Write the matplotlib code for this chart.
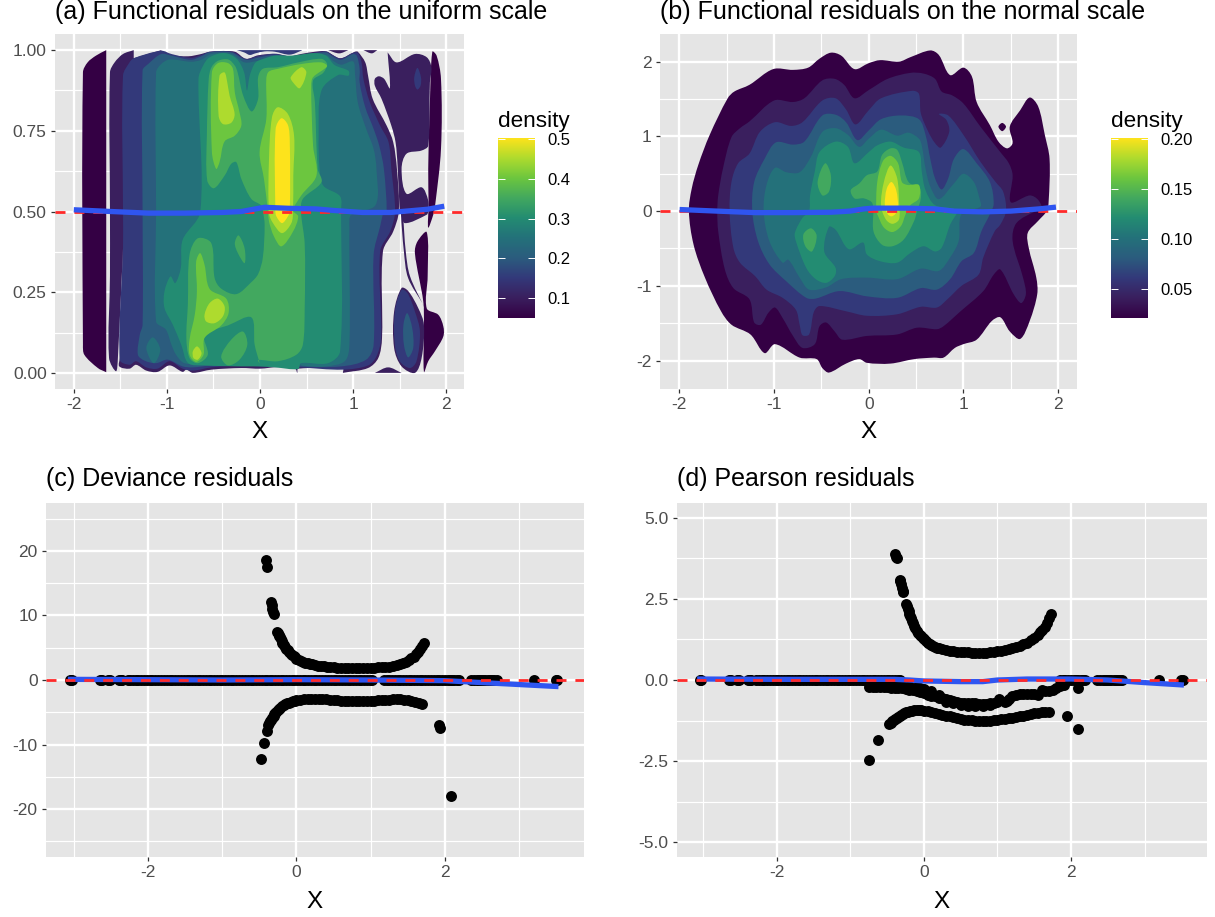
import numpy as np
import matplotlib
matplotlib.use("Agg")
import matplotlib.pyplot as plt
from matplotlib.colors import LinearSegmentedColormap
from matplotlib.patches import PathPatch
from matplotlib.path import Path

plt.rcParams["font.family"] = ["Liberation Sans", "DejaVu Sans"]
plt.rcParams["axes.unicode_minus"] = False

W, H = 1215, 917

band_colors = ["#340044", "#3a1f5e", "#33397a", "#2b5c7e", "#24717a",
               "#238c72", "#42a85f", "#6cc63f", "#aedb2e", "#fde31c"]
levels_a = [0.05, 0.10, 0.15, 0.20, 0.25, 0.30, 0.35, 0.40, 0.45, 0.50]
levels_b = [0.02, 0.04, 0.06, 0.08, 0.10, 0.12, 0.14, 0.16, 0.18, 0.20]

# contour outlines of the density in panel (a)
a_05_left = [(-1.90, .087), (-1.90, .931), (-1.85, .962), (-1.76, .983), (-1.65, 1.0), (-1.65, 1.0),
             (-1.65, .002), (-1.65, .002), (-1.74, .015), (-1.885, .056)]
a_05_right = [(1.85, .995), (1.896, .983), (1.943, .911), (1.943, .694), (1.88, .519), (1.86, .49),
              (1.806, .45), (1.81, .52), (1.806, .632), (1.824, .838)]
a_05_lower = [(1.79, .436), (1.80, .30), (1.79, .20), (1.914, .18), (1.968, .144), (1.968, .113),
              (1.878, .067), (1.806, .036), (1.76, .003), (1.76, .149), (1.753, .221), (1.663, .371), (1.69, .407)]
a_10_main = [(-1.61, .5), (-1.61, .931), (-1.56, .962), (-1.47, .988), (-1.355, 1.0), (-1.355, 1.0),
             (-1.355, .975), (-1.355, .975), (-1.06, 1.0), (-1.06, 1.0), (-1.04, .991), (-.99, .985),
             (-.77, .981), (-.63, .988), (-.54, .995), (-.45, .996), (-.27, .995), (-.15, .973),
             (-.02, .984), (.16, .988), (.32, .981), (.44, .988), (.59, .995), (.71, .996), (.86, .975),
             (1.02, .995), (1.05, .995), (1.13, .962), (1.16, .921), (1.21, .849), (1.36, .766),
             (1.43, .715), (1.47, .632), (1.49, .5), (1.43, .438), (1.32, .376), (1.31, .108),
             (1.27, .046), (1.16, .015), (.89, .0), (.89, .0), (.89, .013), (.41, .013), (.40, .0),
             (.38, .012), (.2, .018), (0, .013), (-.2, .015), (-.52, .01), (-.72, 0), (-.79, .01),
             (-.83, .003), (-.97, .023), (-1.10, .003), (-1.22, .007), (-1.33, .025), (-1.40, .013),
             (-1.51, .02), (-1.505, .046), (-1.47, .386), (-1.47, .386), (-1.525, .046), (-1.545, .005),
             (-1.62, .046), (-1.61, .3)]
a_10_right = [(1.37, .993), (1.37, .993), (1.466, .962), (1.663, .988), (1.79, .978), (1.84, .947), (1.824, .90),
              (1.806, .704), (1.735, .689), (1.573, .679), (1.52, .632), (1.573, .555), (1.735, .575),
              (1.806, .534), (1.806, .5), (1.79, .49), (1.556, .464), (1.51, .495), (1.50, .5), (1.477, .642),
              (1.455, .715), (1.41, .766), (1.305, .849), (1.233, .89), (1.233, .911), (1.276, .919),
              (1.333, .911), (1.394, .882)]
a_10_diag = [(1.513, .5), (1.545, .376), (1.59, .294), (1.753, .211), (1.77, .20), (1.61, .30), (1.565, .376), (1.53, .5)]
a_10_blob = [(1.52, .263), (1.59, .254), (1.70, .20), (1.76, .149), (1.735, .046), (1.663, .0),
             (1.52, .02), (1.44, .077), (1.44, .19)]
a_10_bump = [(1.233, 0), (1.233, 0), (1.376, .017), (1.52, 0), (1.52, 0)]
a_10_top1 = [(.73, 1.0), (.73, 1.0), (.85, .99), (.95, 1.0), (.95, 1.0)]
a_10_top2 = [(1.11, 1.0), (1.11, 1.0), (1.2, .99), (1.26, 1.0), (1.26, 1.0)]
a_15_main = [(-1.47, .5), (-1.47, .921), (-1.40, .962), (-1.355, .975), (-1.06, .998), (-.95, .988),
             (-.74, .976), (-.63, .985), (-.54, .995), (-.30, .995), (-.15, .973), (-.02, .982), (.16, .989),
             (.34, .98), (.52, .989), (.71, .996), (.78, .985), (.87, .974), (1.0, .992), (1.05, .992),
             (1.09, .962), (1.11, .911), (1.18, .838), (1.29, .766), (1.38, .715), (1.41, .632), (1.45, .5),
             (1.40, .44), (1.29, .376), (1.30, .108), (1.25, .051), (1.16, .023), (.89, .01), (.41, .017),
             (0, .02), (-.2, .023), (-.52, .017), (-.72, .007), (-.83, .013), (-.97, .036), (-1.10, .013),
             (-1.22, .017), (-1.33, .036), (-1.40, .025), (-1.505, .041), (-1.47, .386)]
a_15_top = [(-.25, 1.0), (-.25, 1.0), (-.17, .993), (-.11, .985), (-.05, .99), (.05, .996), (.16, .995),
            (.32, .986), (.45, .999), (.45, 1.0), (.45, 1.0)]
a_15_blob = [(1.52, .257), (1.584, .247), (1.663, .19), (1.717, .128), (1.68, .036), (1.61, .015),
             (1.50, .036), (1.448, .087), (1.448, .19)]
a_15_spot = [(1.656, .916), (1.69, .945), (1.728, .916), (1.724, .89), (1.69, .878), (1.664, .89)]
a_20_main = [(-1.26, .5), (-1.26, .937), (-1.20, .957), (-1.06, .988), (-.95, .983), (-.74, .970), (-.63, .981),
             (-.54, .993), (-.31, .993), (-.15, .97), (-.02, .977), (.16, .985), (.34, .975), (.52, .985),
             (.71, .993), (.78, .98), (.87, .97), (1.0, .988), (1.04, .982), (1.07, .942), (1.07, .90),
             (1.13, .823), (1.22, .756), (1.28, .704), (1.33, .632), (1.36, .5), (1.33, .5), (1.29, .454),
             (1.22, .366), (1.22, .087), (1.14, .041), (.87, .02), (.41, .02), (0, .028), (-.2, .027),
             (-.52, .023), (-.72, .017), (-.83, .02), (-.99, .041), (-1.115, .03), (-1.24, .038),
             (-1.31, .056), (-1.29, .118), (-1.26, .149)]
a_20_blob = [(1.58, .185), (1.634, .139), (1.645, .077), (1.59, .048), (1.545, .087), (1.54, .149)]
a_25_main = [(-1.115, .5), (-1.115, .931), (-1.06, .957), (-.97, .971), (-.74, .964), (-.63, .97), (-.52, .988),
             (-.31, .988), (-.165, .962), (-.02, .967), (.16, .974), (.34, .964), (.52, .974), (.71, .985),
             (.78, .968), (.87, .955), (1.0, .965), (1.02, .926), (1.05, .838), (1.14, .756), (1.22, .694),
             (1.25, .632), (1.24, .52), (.98, .49), (.96, .45), (.96, .087), (.91, .036), (.70, .02),
             (.46, .022), (.40, .03), (0, .033), (-.2, .034), (-.52, .027), (-.81, .03), (-.90, .056),
             (-.95, .087), (-1.01, .134), (-1.115, .159)]
a_25_lobe = [(-1.22, .077), (-1.15, .11), (-1.07, .072), (-1.14, .03)]
a_30_main = [(-.64, .5), (-.66, .911), (-.61, .952), (-.54, .978), (-.38, .991), (-.25, .973), (-.17, .931),
             (-.14, .875), (-.11, .921), (-.06, .957), (-.02, .967), (.16, .983), (.34, .983), (.59, .991),
             (.71, .983), (.80, .954), (.95, .936), (.95, .921), (.84, .923), (.66, .875), (.63, .735),
             (.64, .632), (.68, .58), (.86, .547), (.87, .5), (.86, .067), (.73, .03), (.44, .03),
             (.41, .012), (.16, .017), (-.02, .02), (-.2, .02), (-.595, .023), (-.77, .03), (-.845, .087),
             (-.935, .149), (-1.025, .201), (-1.025, .252), (-.96, .299), (-.91, .278), (-.85, .325), (-.83, .412)]
a_35_main = [(-.566, .596), (-.57, .735), (-.55, .911), (-.52, .947), (-.45, .967), (-.34, .971), (-.27, .952),
             (-.24, .931), (-.18, .859), (-.09, .81), (-.02, .849), (-.02, .916), (.03, .942), (.19, .947),
             (.41, .962), (.66, .973), (.72, .957), (.68, .93), (.57, .906), (.59, .838), (.62, .632), (.66, .591),
             (.46, .539), (.44, .5), (.48, .4), (.48, .2), (.46, .087), (.39, .056), (.19, .036), (-.02, .04),
             (-.004, .03), (-.057, .087), (-.093, .172), (-.344, .147), (-.595, .118), (-.56, .056), (-.667, .03),
             (-.756, .046), (-.79, .108), (-.774, .211), (-.756, .366), (-.667, .417), (-.523, .402), (-.487, .294),
             (-.416, .261), (-.254, .244), (-.093, .281), (-.02, .306), (.03, .356), (.05, .459), (.03, .503),
             (.014, .519), (-.093, .539), (-.2, .601), (-.254, .653), (-.308, .648), (-.38, .611), (-.495, .572)]
a_35_spot = [(-.27, .402), (-.23, .426), (-.165, .386), (-.165, .34), (-.237, .371)]
a_35_lens = [(-.416, .051), (-.308, .103), (-.183, .128), (-.136, .087), (-.219, .041), (-.344, .023)]
a_40_upper = [(-.516, .684), (-.516, .931), (-.45, .96), (-.344, .96), (-.29, .942), (-.27, .869), (-.22, .808),
              (-.2, .766), (-.27, .735), (-.38, .717), (-.434, .653), (-.47, .632)]
a_40_center = [(.068, .911), (.093, .933), (.19, .942), (.444, .957), (.66, .962), (.72, .95), (.57, .916),
               (.55, .89), (.57, .704), (.606, .611), (.444, .55), (.355, .503), (.41, .485), (.355, .438),
               (.23, .392), (.15, .423), (.097, .469), (.086, .5), (.043, .601), (-.004, .684), (.068, .787)]
a_40_lower = [(-.642, .371), (-.685, .345), (-.677, .252), (-.70, .18), (-.756, .103), (-.756, .056), (-.685, .034),
              (-.606, .056), (-.595, .108), (-.416, .147), (-.337, .185), (-.362, .23), (-.54, .26), (-.595, .335)]
a_45_upper = [(-.434, .921), (-.38, .931), (-.351, .90), (-.326, .859), (-.272, .802), (-.308, .775), (-.398, .771), (-.444, .797)]
a_45_spot = [(.33, .916), (.444, .947), (.498, .931), (.427, .882), (.355, .90)]
a_45_center = [(.097, .663), (.129, .792), (.19, .823), (.30, .802), (.366, .735), (.358, .611), (.355, .503),
               (.337, .464), (.237, .433), (.14, .464), (.097, .495)]
a_45_lower = [(-.595, .18), (-.541, .216), (-.452, .23), (-.38, .206), (-.398, .175), (-.487, .154), (-.577, .159)]
a_45_small = [(-.72, .067), (-.674, .082), (-.627, .061), (-.667, .041), (-.714, .046)]
a_50_center = [(.165, .503), (.168, .756), (.23, .789), (.30, .768), (.32, .715), (.32, .503), (.30, .485), (.237, .464), (.176, .485)]

# contour outlines of the density in panel (b)
b_02_main = [(-1.90, 0), (-1.87, .30), (-1.80, .62), (-1.68, 1.02), (-1.49, 1.51), (-1.42, 1.60), (-1.26, 1.69),
             (-1.01, 1.90), (-.80, 1.89), (-.64, 1.92), (-.52, 2.04), (-.40, 2.12), (-.29, 2.08), (-.15, 1.90),
             (0, 1.98), (.12, 2.02), (.32, 2.00), (.44, 2.06), (.65, 2.15), (.74, 2.09), (.86, 1.82), (1.0, 1.92),
             (1.09, 1.80), (1.14, 1.46), (1.28, 1.15), (1.37, .93), (1.46, .84), (1.52, .91), (1.49, 1.13),
             (1.60, 1.35), (1.70, 1.52), (1.79, 1.40), (1.86, 1.02), (1.91, .70), (1.90, .12), (1.88, 0),
             (1.79, -.13), (1.68, -.29), (1.69, -.49), (1.77, -.89), (1.78, -1.11), (1.70, -1.47), (1.60, -1.71),
             (1.49, -1.61), (1.39, -1.42), (1.30, -1.47), (1.14, -1.72), (1.0, -1.78), (.91, -1.83), (.79, -1.96),
             (.69, -1.96), (.48, -1.98), (.23, -2.04), (-.02, -2.03), (-.10, -1.98), (-.24, -2.04), (-.42, -2.16),
             (-.49, -2.10), (-.55, -1.98), (-.73, -1.96), (-.99, -1.78), (-1.10, -1.90), (-1.25, -1.65),
             (-1.45, -1.52), (-1.56, -1.34), (-1.73, -.89), (-1.85, -.45)]
b_02_spot = [(1.37, 1.13), (1.41, 1.18), (1.45, 1.13), (1.41, 1.07)]
b_04_main = [(-1.60, 0), (-1.59, .21), (-1.54, .57), (-1.45, .99), (-1.36, 1.11), (-1.26, 1.20), (-1.0, 1.48),
             (-.80, 1.46), (-.68, 1.51), (-.49, 1.75), (-.36, 1.77), (-.26, 1.69), (-.15, 1.51), (0, 1.62),
             (.20, 1.77), (.44, 1.85), (.58, 1.84), (.70, 1.77), (.77, 1.60), (.88, 1.55), (1.0, 1.44),
             (1.18, 1.13), (1.39, .79), (1.48, .64), (1.52, .48), (1.50, .12), (1.70, .21), (1.79, .15), (1.84, 0),
             (1.77, 0), (1.56, -.16), (1.52, -.40), (1.63, -.89), (1.66, -1.11), (1.61, -1.23), (1.53, -1.11),
             (1.39, -.78), (1.32, -.85), (1.21, -1.07), (.97, -1.34), (.79, -1.54), (.72, -1.58), (.51, -1.56),
             (.30, -1.65), (-.02, -1.67), (-.28, -1.72), (-.36, -1.61), (-.45, -1.49), (-.52, -1.54), (-.57, -1.78),
             (-.70, -1.83), (-.80, -1.67), (-.91, -1.43), (-.99, -1.29), (-1.06, -1.36), (-1.14, -1.52),
             (-1.21, -1.49), (-1.26, -1.18), (-1.43, -1.03), (-1.52, -.78), (-1.59, -.27)]
b_06_main = [(-1.47, 0), (-1.45, .39), (-1.38, .64), (-1.26, .77), (-1.15, 1.06), (-.99, 1.19), (-.82, 1.14),
             (-.70, 1.19), (-.49, 1.48), (-.35, 1.51), (-.24, 1.36), (-.14, 1.16), (0, 1.35), (.13, 1.51), (.46, 1.61),
             (.53, 1.57), (.55, 1.31), (.63, 1.06), (.70, .91), (.76, .85), (.85, 1.06), (.82, 1.22), (.74, 1.30),
             (.84, 1.28), (1.0, 1.02), (1.18, .66), (1.34, .39), (1.42, .26), (1.45, 0), (1.39, -.18), (1.33, -.27),
             (1.21, -.62), (1.16, -.85), (.98, -1.0), (.83, -1.18), (.72, -1.29), (.55, -1.28), (.30, -1.38),
             (-.02, -1.40), (-.24, -1.34), (-.52, -1.27), (-.58, -1.35), (-.63, -1.65), (-.70, -1.66), (-.73, -1.52),
             (-.77, -1.32), (-.91, -1.16), (-1.08, -1.05), (-1.20, -.87), (-1.36, -.69), (-1.43, -.49)]
b_08_main = [(-1.23, 0), (-1.21, .39), (-1.10, .70), (-.98, .92), (-.80, .89), (-.68, .93), (-.49, 1.28), (-.35, 1.29),
             (-.24, 1.19), (-.12, .95), (0, 1.08), (.13, 1.23), (.34, 1.28), (.53, 1.23), (.60, 1.02), (.65, .70),
             (.70, .44), (.77, .29), (.84, .44), (.90, .70), (1.0, .83), (1.14, .64), (1.28, .39), (1.32, .10),
             (1.28, -.04), (1.19, -.27), (1.11, -.56), (.98, -.67), (.86, -.91), (.72, -1.05), (.55, -1.03),
             (.30, -1.16), (-.02, -1.14), (-.31, -1.07), (-.56, -1.17), (-.66, -1.16), (-.87, -.94), (-1.05, -.71),
             (-1.17, -.40)]
b_10_main = [(-1.11, 0), (-1.08, .35), (-.99, .58), (-.87, .52), (-.73, .52), (-.61, .73), (-.49, 1.06), (-.35, 1.11),
             (-.22, 1.02), (-.10, .86), (0, .97), (.13, 1.09), (.30, 1.01), (.42, 1.05), (.53, .97), (.56, .88),
             (.60, .57), (.65, .33), (.74, .16), (.90, .37), (1.0, .50), (1.11, .39), (1.17, .17), (1.18, .06),
             (.98, -.04), (.95, -.40), (.86, -.62), (.74, -.80), (.55, -.77), (.30, -.91), (-.02, -.89), (-.29, -.91),
             (-.45, -1.02), (-.63, -1.05), (-.73, -.89), (-.85, -.65), (-.91, -.69), (-1.05, -.40)]
b_12_main = [(-.63, 0), (-.62, .21), (-.57, .53), (-.52, .79), (-.35, .93), (-.22, .86), (-.15, .64), (0, .79), (.09, .88),
             (.23, .93), (.37, .85), (.53, .79), (.56, .53), (.60, .28), (.70, .08), (.93, .01), (.86, -.18), (.77, -.49),
             (.70, -.54), (.58, -.47), (.44, -.56), (.30, -.69), (.12, -.67), (-.02, -.58), (-.06, -.42), (-.21, -.51),
             (-.35, -.25), (-.42, -.21), (-.47, -.54), (-.35, -.76), (-.36, -.87), (-.45, -.96), (-.56, -.91),
             (-.66, -.76), (-.77, -.40), (-.78, -.29), (-.70, -.09)]
b_14_upper = [(-.46, .64), (-.40, .48), (-.42, .26), (-.49, .21), (-.54, .39)]
b_14_lower = [(-.61, -.23), (-.55, -.33), (-.60, -.54), (-.67, -.47), (-.69, -.31)]
b_14_center = [(-.19, .28), (-.15, .17), (-.05, .17), (.04, .10), (.05, -.27), (.14, -.45), (.25, -.47), (.37, -.38),
               (.48, -.13), (.51, 0), (.55, .17), (.54, .30), (.42, .39), (.35, .66), (.30, .82), (.23, .84),
               (.14, .75), (.09, .53), (-.02, .48), (-.10, .37)]
b_16_center = [(.09, .39), (.15, .67), (.23, .74), (.31, .64), (.35, .39), (.41, .35), (.53, .35), (.53, .17), (.44, .08),
               (.39, -.04), (.34, -.20), (.25, -.28), (.16, -.22), (.10, -.07), (.08, 0)]
b_18_center = [(.13, .08), (.16, .39), (.23, .61), (.30, .44), (.32, .12), (.32, -.11), (.25, -.17), (.18, -.11)]
b_20_center = [(.17, .08), (.19, .30), (.24, .39), (.29, .28), (.31, .04), (.28, -.04), (.24, -.07), (.20, -.04)]

# smooth lines
a_smooth_x = [-1.97, -1.6, -1.2, -.8, -.4, -.2, -.05, .05, .3, .6, .8, 1.1, 1.4, 1.6, 1.8, 1.95]
a_smooth_y = [.505, .5, .495, .495, .497, .5, .508, .513, .51, .508, .503, .497, .497, .502, .507, .515]
b_smooth_x = [-1.97, -1.6, -1.2, -.8, -.4, -.2, -.05, .05, .4, .7, .9, 1.2, 1.5, 1.8, 1.95]
b_smooth_y = [.02, 0, -.02, -.02, -.015, 0, .03, .04, .04, .03, 0, -.01, 0, .03, .05]
c_smooth_x = [-3.05, -2, -1, 0, 1, 2, 2.5, 3, 3.5]
c_smooth_y = [.1, .05, 0, .05, 0, -.1, -.4, -.7, -1.0]
d_smooth_x = [-3.05, -2, -1, -.4, -.2, 0, .5, .8, 1.0, 1.4, 2, 2.5, 3, 3.5]
d_smooth_y = [.03, .02, .02, .02, 0, -.03, -.05, -.05, 0, .03, .03, 0, -.08, -.15]

# residuals sitting on zero, both panels (c) and (d)
zero_left_x = [-3.05, -3.03, -2.65, -2.62, -2.55, -2.52, -2.40, -2.37, -2.35, -2.28, -2.24, -2.21, -2.17, -2.14, -2.1,
               -2.06, -2.02, -1.98, -1.95, -1.91, -1.87, -1.83, -1.79, -1.75, -1.71, -1.68, -1.64, -1.6, -1.56, -1.52,
               -1.48, -1.45, -1.41, -1.37, -1.33, -1.3, -1.26, -1.22, -1.18, -1.15, -1.11, -1.07, -1.03, -1.0, -.96,
               -.92, -.88, -.85, -.81, -.77, -.73, -.7, -.66, -.62, -.58, -.55, -.51, -.47, -.43, -.4, -.36, -.33]
zero_mid_x = [-.29, -.25, -.21, -.18, -.14, -.1, -.06, -.03, .01, .05, .09, .12, .16, .2, .24, .27, .31, .35, .39, .42,
              .46, .5, .54, .57, .61, .65, .69, .72, .76, .8, .84, .87, .91, .95, .99, 1.02, 1.18, 1.22, 1.25, 1.29,
              1.33, 1.37, 1.4, 1.44, 1.48, 1.52, 1.55, 1.59, 1.63, 1.67, 1.7, 1.74, 1.78, 1.82]
zero_right_x = [1.85, 1.89, 1.92, 1.96, 2.0, 2.04, 2.07, 2.1, 2.13, 2.16, 2.19, 2.35, 2.4, 2.43, 2.46, 2.49, 2.52, 2.55,
                2.58, 2.61, 2.64, 2.67, 2.7, 3.2, 3.5, 3.52]

c_upper_x = [-.41, -.40, -.34, -.335, -.33, -.32, -.31, -.26, -.25, -.24, -.23, -.22, -.21, -.2, -.19, -.18, -.165, -.15,
             -.135, -.12, -.1, -.08, -.06, -.04, -.02, 0, .03, .06, .09, .12, .15, .18, .21, .25, .29, .33, .37, .41,
             .45, .5, .55, .6, .65, .7, .75, .8, .85, .9, .95, 1.0, 1.05, 1.1, 1.15, 1.2, 1.25, 1.3, 1.35, 1.4, 1.44,
             1.48, 1.52, 1.55, 1.58, 1.61, 1.64, 1.67, 1.7, 1.72]
c_upper_y = [18.6, 17.5, 12, 11.6, 11, 10.5, 10.2, 7.5, 7.3, 7, 6.8, 6.6, 6.3, 6, 5.8, 5.6, 5.35, 5.1,
             4.85, 4.6, 4.35, 4.1, 3.9, 3.7, 3.5, 3.3, 3.1, 2.95, 2.85, 2.7, 2.6, 2.5, 2.4, 2.3, 2.22, 2.15, 2.1, 2.05,
             2, 1.95, 1.92, 1.9, 1.87, 1.85, 1.85, 1.85, 1.85, 1.85, 1.87, 1.9, 1.92, 1.95, 1.97, 2, 2.07, 2.15, 2.3,
             2.5, 2.65, 2.85, 3.1, 3.35, 3.6, 3.95, 4.3, 4.75, 5.3, 5.7]
c_lower_x = [-.48, -.44, -.40, -.38, -.37, -.36, -.35, -.335, -.32, -.31, -.3, -.285, -.27, -.255, -.24, -.22, -.2, -.175,
             -.15, -.125, -.1, -.075, -.05, -.025, 0, .05, .1, .15, .2, .25, .3, .35, .4, .45, .5, .55, .6, .65, .7, .75,
             .8, .85, .9, .95, 1, 1.05, 1.1, 1.15, 1.2, 1.25, 1.3, 1.35, 1.4, 1.45, 1.5, 1.55, 1.6, 1.65, 1.7, 1.92,
             1.94, 2.09]
c_lower_y = [-12.3, -9.7, -7.9, -7, -6.7, -6.4, -6.2, -5.95, -5.7, -5.5, -5.3, -5.1, -4.9, -4.7, -4.5, -4.3, -4.1, -3.9,
             -3.7, -3.6, -3.5, -3.4, -3.3, -3.2, -3.1, -3.05, -3, -2.97, -2.95, -2.95, -2.95, -2.97, -3, -3.05, -3.1,
             -3.15, -3.2, -3.25, -3.3, -3.3, -3.3, -3.3, -3.3, -3.28, -3.25, -3.2, -3.15, -3.12, -3.1, -3.05, -3, -3, -3,
             -3.05, -3.1, -3.25, -3.4, -3.55, -3.7, -7, -7.4, -18]

d_upper_x = [-.39, -.38, -.37, -.33, -.32, -.31, -.3, -.29, -.28, -.24, -.23, -.22, -.21, -.2, -.19, -.18, -.165, -.15,
             -.135, -.12, -.1, -.08, -.06, -.04, -.02, 0, .025, .05, .075, .1, .125, .15, .175, .2, .25, .3, .35, .4,
             .45, .5, .55, .6, .65, .7, .75, .8, .85, .9, .95, 1, 1.05, 1.1, 1.15, 1.2, 1.25, 1.3, 1.35, 1.4, 1.45, 1.5,
             1.55, 1.58, 1.61, 1.64, 1.67, 1.7, 1.73]
d_upper_y = [3.9, 3.8, 3.75, 3.1, 3.05, 2.95, 2.85, 2.75, 2.7, 2.35, 2.28, 2.2, 2.12, 2.05, 1.97, 1.9, 1.82, 1.75,
             1.68, 1.6, 1.52, 1.45, 1.4, 1.35, 1.3, 1.25, 1.2, 1.15, 1.11, 1.07, 1.04, 1.02, 1, .98, .95, .92, .9, .88,
             .87, .86, .855, .85, .845, .84, .84, .84, .845, .85, .86, .88, .9, .92, .95, .98, 1.01, 1.05, 1.1, 1.15,
             1.22, 1.3, 1.4, 1.47, 1.55, 1.65, 1.75, 1.9, 2.05]
d_lower_x = [-.75, -.63, -.47, -.45, -.43, -.41, -.39, -.37, -.35, -.33, -.31, -.29, -.27, -.25, -.22, -.19, -.16, -.13,
             -.1, -.07, -.04, 0, .05, .1, .15, .2, .25, .3, .35, .4, .45, .5, .55, .6, .65, .7, .75, .8, .85, .9, .95, 1,
             1.05, 1.1, 1.15, 1.2, 1.25, 1.3, 1.35, 1.4, 1.45, 1.5, 1.55, 1.6, 1.65, 1.7, 1.95, 2.1]
d_lower_y = [-2.48, -1.85, -1.35, -1.32, -1.28, -1.24, -1.2, -1.16, -1.13, -1.1, -1.07, -1.04, -1.02, -1, -.98, -.96, -.95,
             -.94, -.93, -.93, -.93, -.95, -.97, -1, -1.02, -1.05, -1.07, -1.1, -1.12, -1.15, -1.18, -1.2, -1.22, -1.23,
             -1.24, -1.25, -1.25, -1.25, -1.25, -1.25, -1.24, -1.22, -1.21, -1.2, -1.18, -1.16, -1.14, -1.12, -1.1, -1.08,
             -1.05, -1.03, -1.01, -1, -.99, -.98, -1.12, -1.52]
d_mid_x = [-.75, -.7, -.65, -.6, -.55, -.5, -.45, -.4, -.35, -.3, -.25, -.2, -.15, -.1, -.05, 0, .05, .1, .15, .2, .25, .3,
           .35, .4, .45, .5, .55, .6, .65, .7, .75, .8, .85, .9, .95, 1, 1.02, 1.1, 1.13, 1.16, 1.2, 1.25, 1.3, 1.35, 1.4,
           1.45, 1.5, 1.55, 1.6, 1.65, 1.7, 1.75, 1.8, 1.85, 1.9, 2.1]
d_mid_y = [-.22, -.22, -.22, -.23, -.22, -.22, -.24, -.25, -.25, -.25, -.28, -.3, -.32, -.35, -.37, -.4, -.45, -.48, -.5,
           -.55, -.57, -.6, -.62, -.65, -.67, -.7, -.72, -.72, -.72, -.72, -.74, -.75, -.75, -.72, -.7, -.68, -.6, -.68,
           -.65, -.6, -.5, -.45, -.42, -.42, -.42, -.42, -.42, -.45, -.3, -.33, -.35, -.3, -.25, -.2, -.15, -.25]
d_top_layer_x = [-.4, -.3, -.2, -.1, -.05, 0, .1, .2]
d_top_layer_y = [-.15, -.17, -.2, -.22, -.25, -.28, -.35, -.45]
d_low_layer_x = [.3, .4, .5, .6, .7, .8, .9]
d_low_layer_y = [-.68, -.72, -.76, -.8, -.8, -.8, -.78]


def px_axes(left, top, right, bottom):
    return plt.axes([left / W, 1 - bottom / H, (right - left) / W, (bottom - top) / H])


def style_panel(ax, xlim, ylim, xmajor, xminor, ymajor, ymajor_labels, yminor, xlabel_pad):
    ax.set_facecolor("#E5E5E5")
    for s in ax.spines.values():
        s.set_visible(False)
    ax.set_xlim(xlim)
    ax.set_ylim(ylim)
    ax.set_xticks(xmajor)
    ax.set_xticks(xminor, minor=True)
    ax.set_yticks(ymajor)
    ax.set_yticklabels(ymajor_labels)
    ax.set_yticks(yminor, minor=True)
    ax.grid(True, which="major", color="white", lw=1.7)
    ax.grid(True, which="minor", color="white", lw=0.85)
    ax.set_axisbelow(True)
    ax.tick_params(which="major", length=3, width=0.9, color="#333333", labelcolor="#4D4D4D", labelsize=12.5, pad=3)
    ax.tick_params(which="minor", length=0)
    ax.set_xlabel("X", fontsize=17.5, color="black", labelpad=xlabel_pad)


def smooth_patch(points, color, sx, sy):
    # closed chord-length Catmull-Rom outline through the read points, sx and sy are pixels per unit
    p = np.array(points, dtype=float)
    nxt = np.roll(p, -1, axis=0)
    prv = np.roll(p, 1, axis=0)
    dist = np.hypot((nxt[:, 0] - p[:, 0]) * sx, (nxt[:, 1] - p[:, 1]) * sy)
    d_prev = np.roll(dist, 1)
    total = np.maximum(d_prev + dist, 1e-9)
    slope = (nxt - prv) / total[:, None]
    verts = [p[0]]
    codes = [Path.MOVETO]
    for i in range(len(p)):
        j = (i + 1) % len(p)
        verts += [p[i] + slope[i] * dist[i] / 3, p[j] - slope[j] * dist[i] / 3, p[j]]
        codes += [Path.CURVE4, Path.CURVE4, Path.CURVE4]
    verts.append(p[0])
    codes.append(Path.CLOSEPOLY)
    return PathPatch(Path(verts, codes), facecolor=color, edgecolor="none", zorder=1.5)


def legend_bar(left, top, right, bottom, low, high, ticks, labels):
    cax = px_axes(left, top, right, bottom)
    cax.imshow(np.linspace(1, 0, 256).reshape(-1, 1), cmap=density_cmap, aspect="auto", extent=[0, 1, low, high])
    for s in cax.spines.values():
        s.set_visible(False)
    cax.set_xticks([])
    cax.yaxis.tick_right()
    cax.set_yticks(ticks)
    cax.set_yticklabels(labels)
    cax.tick_params(length=0, labelsize=12, labelcolor="black", pad=9)
    cax.hlines(ticks, 0, 0.2, color="white", lw=0.7)
    cax.hlines(ticks, 0.8, 1, color="white", lw=0.7)
    fig.text(left / W, 1 - 127 / H, "density", fontsize=16.2, color="black", ha="left", va="baseline")


density_cmap = LinearSegmentedColormap.from_list("density", band_colors)
fig = plt.figure(figsize=(W / 100, H / 100), dpi=100)

# (a)
ax = px_axes(55, 34, 464, 389)
style_panel(ax, (-2.2, 2.19), (-0.05, 1.05), [-2, -1, 0, 1, 2], [-1.5, -.5, .5, 1.5],
            [0, .25, .5, .75, 1], ["0.00", "0.25", "0.50", "0.75", "1.00"], [.125, .375, .625, .875], 6)
a_polys = [(0, a_05_left), (0, a_05_right), (0, a_05_lower), (1, a_10_main), (1, a_10_right), (1, a_10_diag),
           (1, a_10_blob), (1, a_10_bump), (1, a_10_top1), (1, a_10_top2), (2, a_15_main), (2, a_15_top),
           (2, a_15_blob), (2, a_15_spot), (3, a_20_main), (3, a_20_blob), (4, a_25_main), (4, a_25_lobe),
           (5, a_30_main), (6, a_35_main), (6, a_35_spot), (6, a_35_lens), (7, a_40_upper), (7, a_40_center),
           (7, a_40_lower), (8, a_45_upper), (8, a_45_spot), (8, a_45_center), (8, a_45_lower), (8, a_45_small),
           (9, a_50_center)]
for lev, pts in a_polys:
    ax.add_patch(smooth_patch(pts, band_colors[lev], 93, 323))
ax.axhline(0.5, color="#FF2A2A", lw=2, ls=(0, (3.6, 3.2)), zorder=2.5)
ax.plot(a_smooth_x, a_smooth_y, color="#2F55F0", lw=3.8, zorder=3)

# (b)
ax = px_axes(660, 34, 1077, 389)
style_panel(ax, (-2.205, 2.2), (-2.38, 2.37), [-2, -1, 0, 1, 2], [-1.5, -.5, .5, 1.5],
            [-2, -1, 0, 1, 2], ["-2", "-1", "0", "1", "2"], [-1.5, -.5, .5, 1.5], 6)
b_polys = [(0, b_02_main), (0, b_02_spot), (1, b_04_main), (2, b_06_main), (3, b_08_main), (4, b_10_main),
           (5, b_12_main), (6, b_14_upper), (6, b_14_lower), (6, b_14_center), (7, b_16_center), (8, b_18_center),
           (9, b_20_center)]
for lev, pts in b_polys:
    ax.add_patch(smooth_patch(pts, band_colors[lev], 95, 74.75))
ax.axhline(0, color="#FF2A2A", lw=2, ls=(0, (3.6, 3.2)), zorder=2.5)
ax.plot(b_smooth_x, b_smooth_y, color="#2F55F0", lw=3.8, zorder=3)

# (c)
ax = px_axes(46, 503, 584, 857)
style_panel(ax, (-3.38, 3.88), (-27.4, 27.4), [-2, 0, 2], [-3, -1, 1, 3],
            [-20, -10, 0, 10, 20], ["-20", "-10", "0", "10", "20"], [-25, -15, -5, 5, 15, 25], 8)
c_zero_x = zero_left_x + zero_mid_x + zero_right_x
ax.scatter(c_zero_x, [0.0] * len(c_zero_x), s=62, color="black", lw=0, zorder=2)
ax.scatter(c_upper_x, c_upper_y, s=62, color="black", lw=0, zorder=2)
ax.scatter(c_lower_x, c_lower_y, s=62, color="black", lw=0, zorder=2)
ax.plot(c_smooth_x, c_smooth_y, color="#2F55F0", lw=3.8, zorder=3)
ax.axhline(0, color="#FF2A2A", lw=2, ls=(0, (3.6, 3.2)), zorder=4)

# (d)
ax = px_axes(677, 503, 1207, 857)
style_panel(ax, (-3.36, 3.85), (-5.46, 5.46), [-2, 0, 2], [-3, -1, 1, 3],
            [-5, -2.5, 0, 2.5, 5], ["-5.0", "-2.5", "0.0", "2.5", "5.0"], [-3.75, -1.25, 1.25, 3.75], 8)
d_zero_x = zero_left_x + zero_right_x
ax.scatter(d_zero_x, [0.0] * len(d_zero_x), s=62, color="black", lw=0, zorder=2)
ax.scatter(d_upper_x, d_upper_y, s=62, color="black", lw=0, zorder=2)
ax.scatter(d_lower_x, d_lower_y, s=62, color="black", lw=0, zorder=2)
ax.scatter(d_mid_x, d_mid_y, s=62, color="black", lw=0, zorder=2)
ax.scatter(d_top_layer_x, d_top_layer_y, s=62, color="black", lw=0, zorder=2)
ax.scatter(d_low_layer_x, d_low_layer_y, s=62, color="black", lw=0, zorder=2)
ax.plot(d_smooth_x, d_smooth_y, color="#2F55F0", lw=3.8, zorder=3)
ax.axhline(0, color="#FF2A2A", lw=2, ls=(0, (3.6, 3.2)), zorder=4)

legend_bar(498, 138, 535, 318, 0.05, 0.5025, [.1, .2, .3, .4, .5], ["0.1", "0.2", "0.3", "0.4", "0.5"])
legend_bar(1111, 138, 1148, 318, 0.021, 0.2015, [.05, .10, .15, .20], ["0.05", "0.10", "0.15", "0.20"])

title_kw = dict(fontsize=18, color="black", ha="left", va="baseline")
fig.text(55 / W, 1 - 19 / H, "(a) Functional residuals on the uniform scale", **title_kw)
fig.text(660 / W, 1 - 19 / H, "(b) Functional residuals on the normal scale", **title_kw)
fig.text(46 / W, 1 - 486 / H, "(c) Deviance residuals", **title_kw)
fig.text(677 / W, 1 - 486 / H, "(d) Pearson residuals", **title_kw)

fig.savefig("out.png", dpi=100)
